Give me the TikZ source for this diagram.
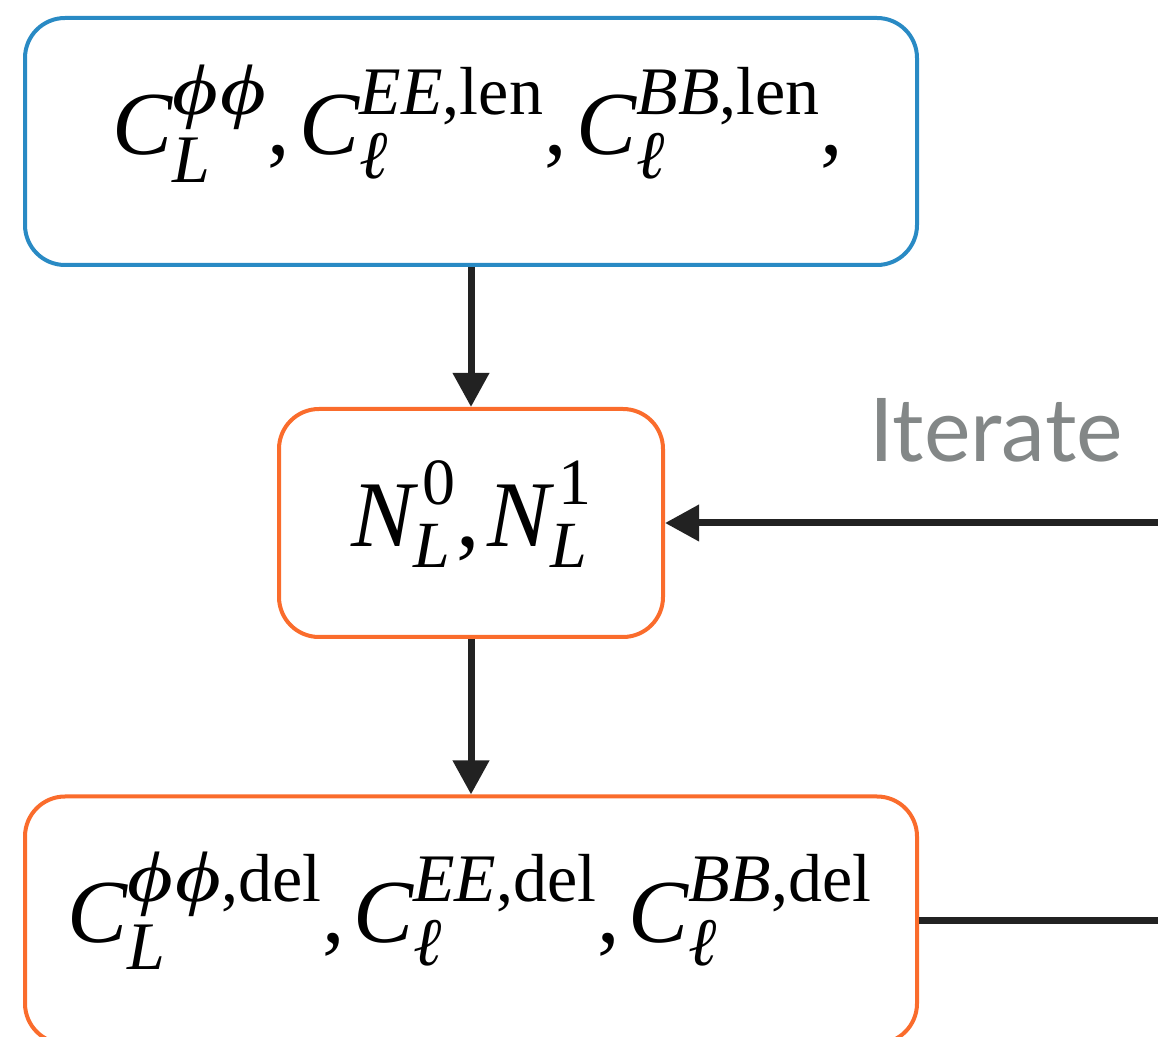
\documentclass[tikz,border=0pt]{standalone}
\usepackage{amsmath}
\usepackage{graphicx}
\usepackage{fontspec}
\setmainfont{Liberation Serif}
\newfontfamily\iterfont{Lato}
\usetikzlibrary{arrows.meta}
\DeclareMathSizes{45}{45}{34}{25}
\DeclareMathSizes{47}{47}{33}{24}
\newcommand\iv[1]{\text{\itshape #1}}
\newcommand\rv[1]{\text{\upshape #1}}
\newcommand\lsub[1]{\text{\itshape\raisebox{-4pt}{#1}}}
\newcommand\wphi{\text{\itshape\scalebox{1.3}[1.05]{ϕ}}}
\newcommand\phiphi{\wphi\kern1pt\wphi}
\definecolor{boxblue}{RGB}{41,138,196}
\definecolor{boxorange}{RGB}{250,108,44}
\definecolor{arrdark}{RGB}{34,34,34}
\definecolor{itergray}{RGB}{131,135,135}
\tikzset{
  stagebox/.style={draw, line width=2pt, rounded corners=20pt, inner sep=0pt},
  formula/.style={anchor=base, inner sep=0pt, font=\fontsize{45}{54}\selectfont},
  midformula/.style={anchor=base, inner sep=0pt, font=\fontsize{47}{56}\selectfont},
  flow/.style={draw=arrdark, line width=3.5pt, -{Triangle[length=17pt,width=17.5pt]}},
  plainflow/.style={draw=arrdark, line width=3.5pt},
}
\begin{document}
\begin{tikzpicture}[x=0.5pt,y=-0.5pt]
\useasboundingbox (0,0) rectangle (1158,1037);
\node[stagebox, draw=boxblue, minimum width=446pt, minimum height=123.5pt] (top) at (471,141.5) {};
\node[stagebox, draw=boxorange, minimum width=192pt, minimum height=114pt] (mid) at (471,523) {};
\node[stagebox, draw=boxorange, minimum width=446pt, minimum height=123.5pt] (bot) at (471,920) {};
\node[formula] (toptxt) at (478,155)
  {$\iv{C}_{\lsub{L}}^{\phiphi}\rv{,}\kern5pt \iv{C}_{\lsub{ℓ}}^{\iv{EE}\rv{,len}}\rv{,}\kern5pt \iv{C}_{\lsub{ℓ}}^{\iv{BB}\rv{,len}}\rv{,}$};
\node[midformula] (midtxt) at (472,547)
  {$\iv{N}_{\lsub{L}}^{\,\rv{0}}\rv{,}\, \iv{N}_{\lsub{L}}^{\,\rv{1}}$};
\node[formula] (bottxt) at (470,942)
  {$\iv{C}_{\lsub{L}}^{\phiphi\rv{,del}}\rv{,}\, \iv{C}_{\lsub{ℓ}}^{\iv{EE}\rv{,del}}\rv{,}\, \iv{C}_{\lsub{ℓ}}^{\iv{BB}\rv{,del}}$};
\coordinate (rin) at (1170,523);
\coordinate (rout) at (1170,920);
\node[anchor=base, text=itergray, inner sep=0pt] (iter) at (996,462) {\iterfont\fontsize{44pt}{50pt}\selectfont Iterate};
\draw[flow] (top.south) -- (mid.north);
\draw[flow] (mid.south) -- (bot.north);
\draw[flow] (rin) -- (mid.east);
\draw[plainflow] (bot.east) -- (rout);
\end{tikzpicture}
\end{document}
